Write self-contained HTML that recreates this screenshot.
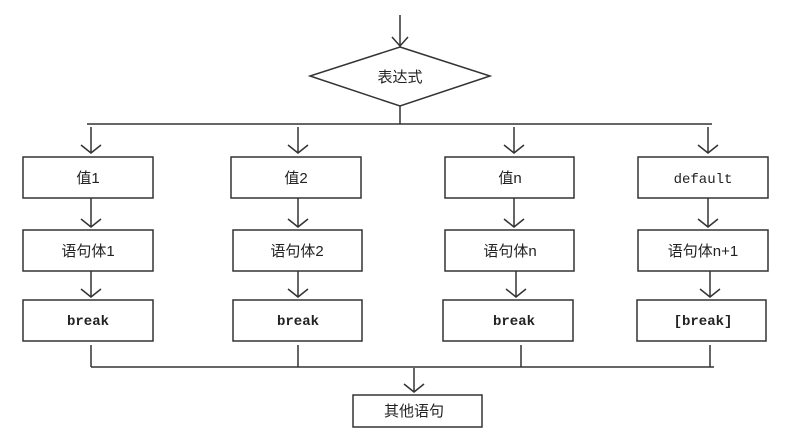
<!DOCTYPE html>
<html><head><meta charset="utf-8"><style>
html,body{margin:0;padding:0;background:#fff;}
svg{display:block;}
text{font-family:"Liberation Sans","Noto Sans CJK SC",sans-serif;font-size:15px;fill:#222;}
.m{font-family:"Liberation Mono","Noto Sans CJK SC",monospace;font-size:14px;font-weight:bold;}
</style></head><body>
<svg width="795" height="440" viewBox="0 0 795 440" xmlns="http://www.w3.org/2000/svg">
<g stroke="#333" stroke-width="1.5" fill="none">
<line x1="400" y1="15" x2="400" y2="46"/><polyline points="392,37 400,46 408,37"/>
<polygon points="400,47 490,76 400,106 310,76" fill="#fff"/>
<line x1="400" y1="106" x2="400" y2="124"/>
<line x1="87" y1="124" x2="712" y2="124"/>
<g id="c">
</g>
<rect x="23" y="157" width="130" height="41"/><rect x="231" y="157" width="130" height="41"/><rect x="445" y="157" width="129" height="41"/><rect x="638" y="157" width="130" height="41"/>
<rect x="23" y="230" width="130" height="41"/><rect x="233" y="230" width="129" height="41"/><rect x="445" y="230" width="129" height="41"/><rect x="638" y="230" width="130" height="41"/>
<rect x="23" y="300" width="130" height="41"/><rect x="233" y="300" width="129" height="41"/><rect x="443" y="300" width="130" height="41"/><rect x="637" y="300" width="129" height="41"/>
<rect x="353" y="395" width="129" height="32"/>
<line x1="91" y1="127" x2="91" y2="153"/><polyline points="81,145 91,153 101,145"/>
<line x1="298" y1="127" x2="298" y2="153"/><polyline points="288,145 298,153 308,145"/>
<line x1="514" y1="127" x2="514" y2="153"/><polyline points="504,145 514,153 524,145"/>
<line x1="708" y1="127" x2="708" y2="153"/><polyline points="698,145 708,153 718,145"/>
<line x1="91" y1="198" x2="91" y2="227"/><polyline points="81,219 91,227 101,219"/>
<line x1="298" y1="198" x2="298" y2="227"/><polyline points="288,219 298,227 308,219"/>
<line x1="514" y1="198" x2="514" y2="227"/><polyline points="504,219 514,227 524,219"/>
<line x1="708" y1="198" x2="708" y2="227"/><polyline points="698,219 708,227 718,219"/>
<line x1="91" y1="271" x2="91" y2="297"/><polyline points="81,289 91,297 101,289"/>
<line x1="298" y1="271" x2="298" y2="297"/><polyline points="288,289 298,297 308,289"/>
<line x1="516" y1="271" x2="516" y2="297"/><polyline points="506,289 516,297 526,289"/>
<line x1="710" y1="271" x2="710" y2="297"/><polyline points="700,289 710,297 720,289"/>
<line x1="91" y1="345" x2="91" y2="367"/><line x1="298" y1="345" x2="298" y2="367"/>
<line x1="521" y1="345" x2="521" y2="367"/><line x1="710" y1="345" x2="710" y2="367"/>
<line x1="91" y1="367" x2="714" y2="367"/>
<line x1="414" y1="368" x2="414" y2="392"/><polyline points="404,384 414,392 424,384"/>
</g>
<text x="400" y="82" text-anchor="middle">表达式</text>
<text x="88" y="183" text-anchor="middle">值1</text>
<text x="296" y="183" text-anchor="middle">值2</text>
<text x="510" y="183" text-anchor="middle">值n</text>
<text x="703" y="183" text-anchor="middle" class="m" style="font-weight:normal">default</text>
<text x="88" y="256" text-anchor="middle">语句体1</text>
<text x="297" y="256" text-anchor="middle">语句体2</text>
<text x="510" y="256" text-anchor="middle">语句体n</text>
<text x="703" y="256" text-anchor="middle">语句体n+1</text>
<text x="88" y="325" text-anchor="middle" class="m">break</text>
<text x="298" y="325" text-anchor="middle" class="m">break</text>
<text x="514" y="325" text-anchor="middle" class="m">break</text>
<text x="703" y="325" text-anchor="middle" class="m">[break]</text>
<text x="414" y="416" text-anchor="middle">其他语句</text>
</svg>
</body></html>
